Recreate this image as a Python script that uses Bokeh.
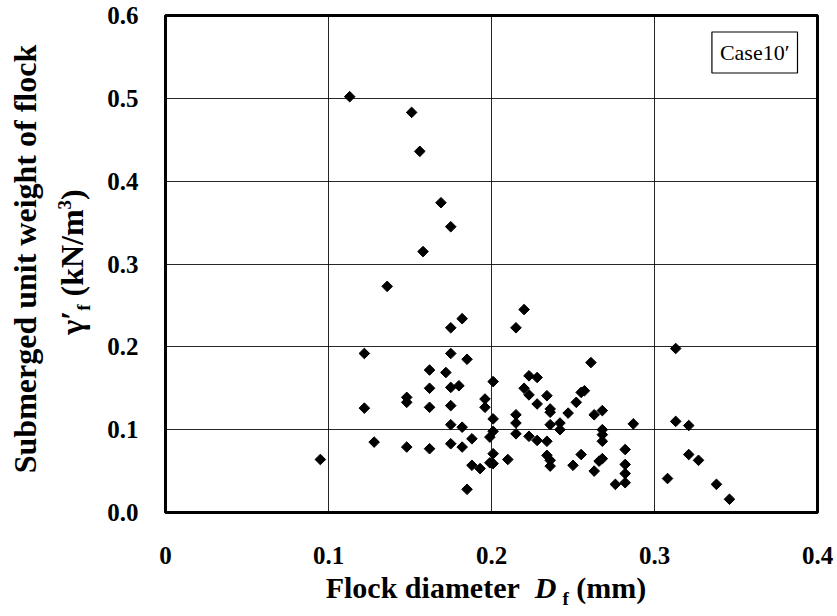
import numpy as np
from bokeh.plotting import figure
from bokeh.models import Label, FixedTicker, Div
from bokeh.layouts import row, column
from bokeh.embed import file_html
from bokeh.resources import INLINE

# Flock diameter D_f (mm) and submerged unit weight gamma'_f (kN/m^3)
flock_diameter = [
    0.113, 0.151, 0.156, 0.169, 0.175, 0.158, 0.136,
    0.182, 0.175, 0.122, 0.175, 0.185, 0.162, 0.172, 0.162, 0.175, 0.180,
    0.148, 0.148, 0.122, 0.162, 0.175, 0.175, 0.182, 0.188, 0.128, 0.148,
    0.162, 0.175, 0.182, 0.095, 0.188, 0.193, 0.185,
    0.220, 0.215, 0.261, 0.201, 0.223, 0.228, 0.220, 0.223, 0.234, 0.257,
    0.255, 0.196, 0.196, 0.228, 0.236, 0.236, 0.252, 0.247, 0.263, 0.268,
    0.201, 0.215, 0.215, 0.236, 0.242, 0.242, 0.287, 0.268, 0.268, 0.268,
    0.201, 0.199, 0.215, 0.223, 0.228, 0.234, 0.282, 0.201, 0.201, 0.199,
    0.210, 0.234, 0.236, 0.236, 0.255, 0.250, 0.268, 0.266, 0.263, 0.282,
    0.282, 0.282, 0.276, 0.308,
    0.313, 0.313, 0.321, 0.321, 0.327, 0.338, 0.346,
]
unit_weight = [
    0.502, 0.483, 0.436, 0.374, 0.345, 0.315, 0.273,
    0.234, 0.223, 0.192, 0.192, 0.185, 0.172, 0.169, 0.150, 0.151, 0.153,
    0.139, 0.133, 0.126, 0.127, 0.129, 0.106, 0.103, 0.089, 0.085, 0.079,
    0.077, 0.083, 0.079, 0.064, 0.057, 0.053, 0.028,
    0.245, 0.223, 0.181, 0.158, 0.165, 0.163, 0.150, 0.142, 0.141, 0.147,
    0.145, 0.137, 0.127, 0.131, 0.125, 0.121, 0.133, 0.120, 0.118, 0.123,
    0.113, 0.118, 0.108, 0.106, 0.108, 0.100, 0.107, 0.100, 0.094, 0.086,
    0.098, 0.091, 0.095, 0.092, 0.087, 0.086, 0.076, 0.071, 0.059, 0.060,
    0.064, 0.069, 0.063, 0.056, 0.070, 0.057, 0.065, 0.062, 0.050, 0.058,
    0.047, 0.036, 0.034, 0.041,
    0.198, 0.110, 0.105, 0.070, 0.063, 0.034, 0.016,
]

x_ticks = [0.0, 0.1, 0.2, 0.3, 0.4]
x_tick_labels = ["0", "0.1", "0.2", "0.3", "0.4"]
y_ticks = [0.0, 0.1, 0.2, 0.3, 0.4, 0.5, 0.6]
y_tick_labels = ["0.0", "0.1", "0.2", "0.3", "0.4", "0.5", "0.6"]
case_name = "Case10\u2032"

SERIF = "Liberation Serif"
FIG_H = 575

fig = figure(
    width=737, height=FIG_H,
    x_range=(0, 0.4), y_range=(0, 0.6),
    output_backend="svg", toolbar_location=None,
    min_border_left=65, min_border_right=20,
    min_border_top=15, min_border_bottom=FIG_H - 512,
    background_fill_color="white", border_fill_color="white",
    margin=0,
)

# frame and grid
fig.outline_line_color = "black"
fig.outline_line_width = 3
fig.grid.grid_line_color = "black"
fig.grid.grid_line_width = 1
fig.grid.grid_line_alpha = 0.85

# axes: bold serif tick labels, no tick marks
fig.xaxis.ticker = FixedTicker(ticks=x_ticks)
fig.yaxis.ticker = FixedTicker(ticks=y_ticks)
fig.xaxis.major_label_overrides = dict(zip(x_ticks, x_tick_labels))
fig.yaxis.major_label_overrides = dict(zip(y_ticks, y_tick_labels))
for ax in (fig.xaxis, fig.yaxis):
    ax.axis_line_color = None
    ax.major_tick_line_color = None
    ax.minor_tick_line_color = None
    ax.major_tick_out = 0
    ax.major_tick_in = 0
    ax.major_label_text_font = SERIF
    ax.major_label_text_font_style = "bold"
    ax.major_label_text_font_size = "25px"
    ax.major_label_text_color = "black"
fig.xaxis.major_label_standoff = 34
fig.yaxis.major_label_standoff = 27

# data points as filled diamonds
fig.scatter(flock_diameter, unit_weight, marker="square", angle=np.pi / 4,
            size=7.5, fill_color="black", line_color="black")

# boxed case name in the upper right corner
fig.add_layout(Label(
    x=632, y=460, x_units="screen", y_units="screen",
    text=case_name, text_align="right", text_baseline="middle",
    text_font=SERIF, text_font_size="22px", text_color="black",
    border_line_color="black", border_line_width=1.2,
    background_fill_color="white", padding=8,
))

FONT = "font-family:'Liberation Serif',serif;font-weight:bold;color:black;"
ROT = "position:absolute;white-space:nowrap;line-height:1;transform:translate(-50%,-50%) rotate(-90deg);"
SMALL = "font-size:19px;line-height:0;"

y_title = Div(
    width=100, height=FIG_H, margin=0,
    text=(
        f'<div style="position:relative;width:100px;height:{FIG_H}px;{FONT}">'
        f'<div style="{ROT}left:25px;top:259px;font-size:32px;">'
        'Submerged unit weight of flock</div>'
        f'<div style="{ROT}left:72px;top:262px;font-size:32px;">'
        f'\u03b3\u2032<sub style="{SMALL}">f</sub> (kN/m<sup style="{SMALL}">3</sup>)</div>'
        '</div>'
    ),
)

x_title = Div(
    width=837, height=616 - FIG_H, margin=0,
    text=(
        f'<div style="position:relative;width:837px;height:{616 - FIG_H}px;{FONT}">'
        '<div style="position:absolute;left:486px;top:1px;transform:translateX(-50%);'
        'white-space:nowrap;line-height:0.8;font-size:30px;">'
        f'Flock diameter&nbsp;&nbsp;<i>D</i>&thinsp;<sub style="{SMALL}">f</sub> (mm)</div>'
        '</div>'
    ),
)

p = column(row(y_title, fig, spacing=0), x_title, spacing=0)

open("out.html", "w").write(file_html(p, INLINE))
